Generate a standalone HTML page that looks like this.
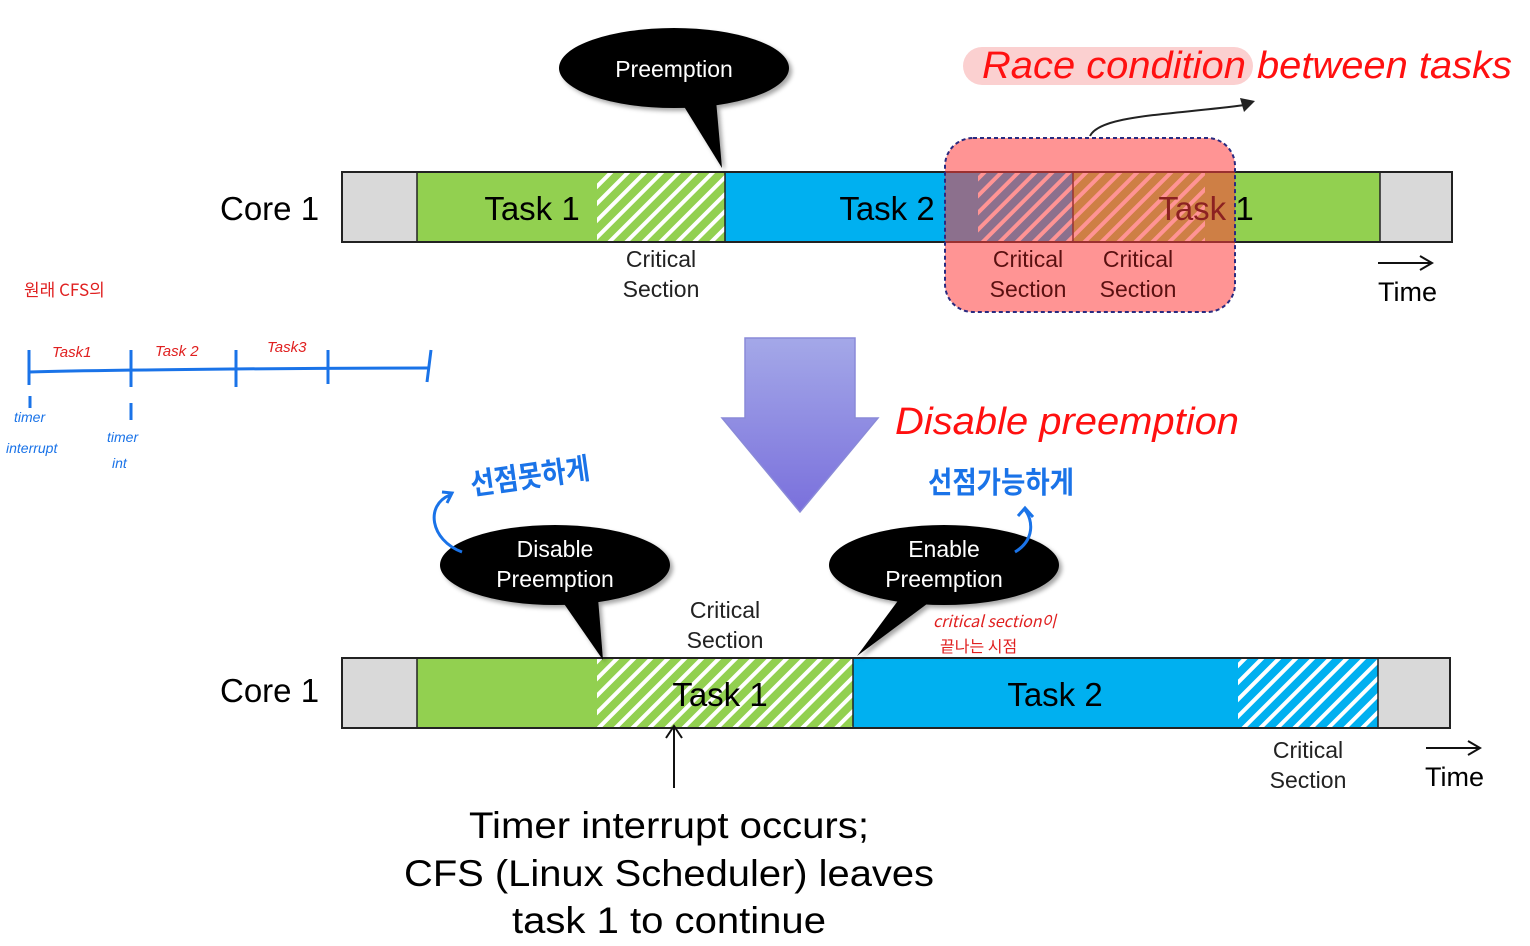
<!DOCTYPE html>
<html><head><meta charset="utf-8"><style>body{margin:0;background:#fff}svg{display:block}</style></head><body>
<svg width="1530" height="946" viewBox="0 0 1530 946" xmlns="http://www.w3.org/2000/svg" font-family="Liberation Sans, sans-serif">
<defs>
<pattern id="hg" width="12" height="12" patternUnits="userSpaceOnUse" patternTransform="rotate(45)"><rect width="12" height="12" fill="#92d050"/><rect width="4" height="12" fill="#fff"/></pattern>
<pattern id="hb" width="12" height="12" patternUnits="userSpaceOnUse" patternTransform="rotate(45)"><rect width="12" height="12" fill="#00b0f0"/><rect width="4" height="12" fill="#fff"/></pattern>
<linearGradient id="pg" x1="0" y1="0" x2="0" y2="1"><stop offset="0" stop-color="#a4a8e8"/><stop offset="1" stop-color="#7a70dc"/></linearGradient>
<filter id="sh"><feDropShadow dx="3" dy="3" stdDeviation="2" flood-opacity="0.35"/></filter>
</defs>
<text x="220" y="220" font-size="33">Core 1</text>
<rect x="342" y="172" width="75" height="70" fill="#d9d9d9"/>
<rect x="417" y="172" width="180" height="70" fill="#92d050"/>
<rect x="597" y="172" width="128" height="70" fill="url(#hg)"/>
<rect x="725" y="172" width="253" height="70" fill="#00b0f0"/>
<rect x="978" y="172" width="95" height="70" fill="url(#hb)"/>
<rect x="1073" y="172" width="132" height="70" fill="url(#hg)"/>
<rect x="1205" y="172" width="175" height="70" fill="#92d050"/>
<rect x="1380" y="172" width="72" height="70" fill="#d9d9d9"/>
<rect x="342" y="172" width="1110" height="70" fill="none" stroke="#222" stroke-width="2"/>
<line x1="417" y1="172" x2="417" y2="242" stroke="#222" stroke-width="1.5"/>
<line x1="725" y1="172" x2="725" y2="242" stroke="#222" stroke-width="1.5"/>
<line x1="1073" y1="172" x2="1073" y2="242" stroke="#222" stroke-width="1.5"/>
<line x1="1380" y1="172" x2="1380" y2="242" stroke="#222" stroke-width="1.5"/>
<text x="532" y="220" font-size="33" text-anchor="middle">Task 1</text>
<text x="887" y="220" font-size="33" text-anchor="middle">Task 2</text>
<text x="1206" y="220" font-size="33" text-anchor="middle">Task 1</text>
<text x="661" y="267" font-size="23" text-anchor="middle" fill="#222">Critical</text>
<text x="661" y="297" font-size="23" text-anchor="middle" fill="#222">Section</text>
<rect x="945" y="138" width="290" height="174" rx="28" fill="rgba(255,60,60,0.55)" stroke="#2a2a80" stroke-width="2" stroke-dasharray="4,3"/>
<text x="1028" y="267" font-size="23" text-anchor="middle" fill="#5a1010">Critical</text>
<text x="1028" y="297" font-size="23" text-anchor="middle" fill="#5a1010">Section</text>
<text x="1138" y="267" font-size="23" text-anchor="middle" fill="#5a1010">Critical</text>
<text x="1138" y="297" font-size="23" text-anchor="middle" fill="#5a1010">Section</text>
<line x1="1378" y1="263" x2="1430" y2="263" stroke="#111" stroke-width="2"/><path d="M1420 256 L1432 263 L1420 270" fill="none" stroke="#111" stroke-width="2"/>
<text x="1378" y="301" font-size="27">Time</text>
<rect x="963" y="47" width="290" height="38" rx="19" fill="#fbd0d0"/>
<text x="982" y="78" font-size="38" font-style="italic" fill="#ff1010" textLength="530" lengthAdjust="spacingAndGlyphs">Race condition between tasks</text>
<path d="M1090 136 C1100 115 1170 115 1245 105" fill="none" stroke="#222" stroke-width="2"/>
<path d="M1240 98 L1255 101 L1244 112 Z" fill="#222"/>
<g filter="url(#sh)"><path d="M680 100 L722 168 L716 100 Z" fill="#000"/><ellipse cx="674" cy="68" rx="115" ry="40" fill="#000"/></g>
<text x="674" y="77" font-size="23" fill="#fff" text-anchor="middle">Preemption</text>
<path d="M745 338 H855 V418 H878 L800 512 L722 418 H745 Z" fill="url(#pg)" stroke="#8a8ad8" stroke-width="1.5"/>
<text x="895" y="434" font-size="38" font-style="italic" fill="#ff1010" textLength="344" lengthAdjust="spacingAndGlyphs">Disable preemption</text>
<text x="220" y="702" font-size="33">Core 1</text>
<rect x="342" y="658" width="75" height="70" fill="#d9d9d9"/>
<rect x="417" y="658" width="180" height="70" fill="#92d050"/>
<rect x="597" y="658" width="256" height="70" fill="url(#hg)"/>
<rect x="853" y="658" width="385" height="70" fill="#00b0f0"/>
<rect x="1238" y="658" width="140" height="70" fill="url(#hb)"/>
<rect x="1378" y="658" width="72" height="70" fill="#d9d9d9"/>
<rect x="342" y="658" width="1108" height="70" fill="none" stroke="#222" stroke-width="2"/>
<line x1="417" y1="658" x2="417" y2="728" stroke="#222" stroke-width="1.5"/>
<line x1="853" y1="658" x2="853" y2="728" stroke="#222" stroke-width="1.5"/>
<line x1="1378" y1="658" x2="1378" y2="728" stroke="#222" stroke-width="1.5"/>
<text x="720" y="706" font-size="33" text-anchor="middle">Task 1</text>
<text x="1055" y="706" font-size="33" text-anchor="middle">Task 2</text>
<text x="725" y="618" font-size="23" text-anchor="middle" fill="#222">Critical</text>
<text x="725" y="648" font-size="23" text-anchor="middle" fill="#222">Section</text>
<text x="1308" y="758" font-size="23" text-anchor="middle" fill="#222">Critical</text>
<text x="1308" y="788" font-size="23" text-anchor="middle" fill="#222">Section</text>
<line x1="1426" y1="748" x2="1478" y2="748" stroke="#111" stroke-width="2"/><path d="M1468 741 L1480 748 L1468 755" fill="none" stroke="#111" stroke-width="2"/>
<text x="1425" y="786" font-size="27">Time</text>
<line x1="674" y1="788" x2="674" y2="726" stroke="#111" stroke-width="2"/><path d="M666 738 L674 726 L682 738" fill="none" stroke="#111" stroke-width="2"/>
<text x="669" y="838" font-size="37" text-anchor="middle" textLength="400" lengthAdjust="spacingAndGlyphs">Timer interrupt occurs;</text>
<text x="669" y="886" font-size="37" text-anchor="middle" textLength="530" lengthAdjust="spacingAndGlyphs">CFS (Linux Scheduler) leaves</text>
<text x="669" y="933" font-size="37" text-anchor="middle" textLength="314" lengthAdjust="spacingAndGlyphs">task 1 to continue</text>
<g filter="url(#sh)"><path d="M560 598 L603 660 L598 598 Z" fill="#000"/><ellipse cx="555" cy="565" rx="115" ry="40" fill="#000"/></g>
<text x="555" y="557" font-size="23" fill="#fff" text-anchor="middle">Disable</text>
<text x="555" y="587" font-size="23" fill="#fff" text-anchor="middle">Preemption</text>
<g filter="url(#sh)"><path d="M900 598 L857 656 L935 598 Z" fill="#000"/><ellipse cx="944" cy="565" rx="115" ry="40" fill="#000"/></g>
<text x="944" y="557" font-size="23" fill="#fff" text-anchor="middle">Enable</text>
<text x="944" y="587" font-size="23" fill="#fff" text-anchor="middle">Preemption</text>
<text x="472" y="495" font-size="30" font-weight="bold" fill="#1a73e8" font-family="Noto Sans CJK KR, sans-serif" transform="rotate(-8 472 495)" textLength="120" lengthAdjust="spacingAndGlyphs">선점못하게</text>
<path d="M462 552 C430 540 425 505 450 495" fill="none" stroke="#1a73e8" stroke-width="3"/><path d="M442 492 L452 493 L447 503" fill="none" stroke="#1a73e8" stroke-width="3"/>
<text x="928" y="493" font-size="30" font-weight="bold" fill="#1a73e8" font-family="Noto Sans CJK KR, sans-serif" textLength="146" lengthAdjust="spacingAndGlyphs">선점가능하게</text>
<path d="M1015 552 C1035 540 1033 520 1025 510" fill="none" stroke="#1a73e8" stroke-width="3"/><path d="M1018 516 L1025 508 L1033 517" fill="none" stroke="#1a73e8" stroke-width="3"/>
<text x="933" y="627" font-size="16" fill="#e02020" font-family="Noto Sans CJK KR, sans-serif" font-style="italic">critical section이</text>
<text x="940" y="652" font-size="16" fill="#e02020" font-family="Noto Sans CJK KR, sans-serif">끝나는 시점</text>
<text x="24" y="296" font-size="17" fill="#e02020" font-family="Noto Sans CJK KR, sans-serif">원래 CFS의</text>
<g stroke="#1a73e8" stroke-width="3" fill="none">
<path d="M29 372 C100 370 300 368 430 368"/>
<line x1="29" y1="350" x2="29" y2="385"/><line x1="131" y1="350" x2="131" y2="387"/><line x1="236" y1="350" x2="236" y2="387"/><line x1="328" y1="350" x2="328" y2="384"/><line x1="431" y1="350" x2="427" y2="382"/>
<line x1="30" y1="408" x2="30" y2="396"/><line x1="131" y1="420" x2="131" y2="403"/>
</g>
<g font-size="15" fill="#e02020" font-style="italic"><text x="52" y="357">Task1</text><text x="155" y="356">Task 2</text><text x="267" y="352">Task3</text></g>
<g font-size="14" fill="#1a73e8" font-style="italic"><text x="14" y="422">timer</text><text x="6" y="453">interrupt</text><text x="107" y="442">timer</text><text x="112" y="468">int</text></g>
</svg>
</body></html>
